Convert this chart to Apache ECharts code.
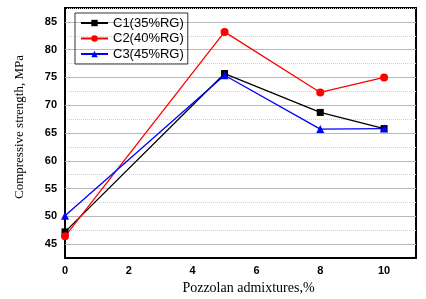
<!DOCTYPE html>
<html><head><meta charset="utf-8">
<script src="https://cdn.jsdelivr.net/npm/echarts@6/dist/echarts.min.js"></script>
<style>html,body{margin:0;padding:0;background:#fff}#c{width:426px;height:299px}</style>
</head><body><div id="c"></div>
<script>
const xValues = [0, 5, 8, 10];
const c1 = [47.2, 75.7, 68.7, 65.8];
const c2 = [46.4, 83.2, 72.3, 75.0];
const c3 = [50.1, 75.4, 65.7, 65.8];
const seriesNames = ['C1(35%RG)', 'C2(40%RG)', 'C3(45%RG)'];
const xTicks = [0, 2, 4, 6, 8, 10];
const yTicks = [45, 50, 55, 60, 65, 70, 75, 80, 85];

const chart = echarts.init(document.getElementById('c'));
function pts(v){ return xValues.map((x,i)=>[x, v[i]]); }
chart.setOption({
  animation:false,
  grid:{left:65, right:10, top:8, bottom:41, show:true, borderColor:'#000', borderWidth:2,
        containLabel:false, outerBoundsMode:'none'},
  legend:{
    left:75, top:13, orient:'vertical', itemGap:1.5, itemWidth:27, itemHeight:8,
    borderColor:'#333', borderWidth:1, padding:[3,4,3,5],
    textStyle:{fontFamily:'Liberation Sans', fontSize:13, color:'#000', lineHeight:14},
    data:seriesNames
  },
  xAxis:{
    type:'value', min:0, max:11, interval:2,
    name:'Pozzolan admixtures,%', nameLocation:'middle', nameGap:22,
    nameTextStyle:{fontFamily:'Liberation Serif', fontSize:14, color:'#000', padding:[0,0,0,16]},
    axisLine:{lineStyle:{color:'#000', width:2}},
    axisTick:{show:false},
    splitLine:{show:false},
    axisLabel:{fontFamily:'Liberation Sans', fontWeight:'bold', fontSize:11, color:'#000', margin:7,
      formatter:v=> xTicks.includes(v)? String(v):''}
  },
  yAxis:{
    type:'value', min:42.5, max:87.5, interval:2.5,
    name:'Compressive strength, MPa', nameLocation:'middle', nameGap:39,
    nameTextStyle:{fontFamily:'Liberation Serif', fontSize:13, color:'#000', padding:[0,0,0,12]},
    axisLine:{lineStyle:{color:'#000', width:2}},
    axisTick:{show:false},
    splitLine:{show:true, lineStyle:{color:'#d0d0d0', width:1, type:'dotted'}},
    axisLabel:{fontFamily:'Liberation Sans', fontWeight:'bold', fontSize:11, color:'#000', margin:8,
      formatter:v=> yTicks.includes(v)? String(v):''}
  },
  series:[
    {name:seriesNames[0], type:'line', data:pts(c1), symbol:'rect', symbolSize:7, z:3,
     lineStyle:{color:'#000', width:1.3}, itemStyle:{color:'#000'},
     markLine:{silent:true, symbol:'none', label:{show:false}, z:1,
       lineStyle:{color:'#b8b8b8', width:1, type:'solid'},
       data: yTicks.map(v=>({yAxis:v}))}},
    {name:seriesNames[1], type:'line', data:pts(c2), symbol:'circle', symbolSize:8, z:3,
     lineStyle:{color:'#ff0000', width:1.3}, itemStyle:{color:'#ff0000'}},
    {name:seriesNames[2], type:'line', data:pts(c3), symbol:'triangle', symbolSize:8, z:3,
     lineStyle:{color:'#0000ff', width:1.3}, itemStyle:{color:'#0000ff'}}
  ]
});
</script></body></html>
